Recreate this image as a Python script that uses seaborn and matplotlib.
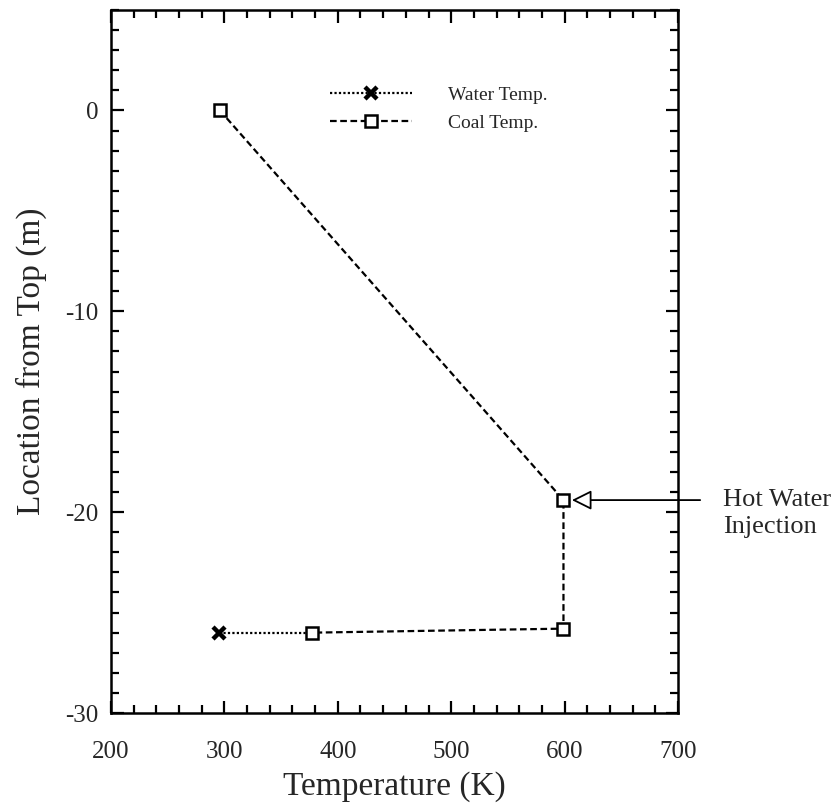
import matplotlib
matplotlib.use("Agg")
import matplotlib.pyplot as plt
import seaborn as sns
import pandas as pd
from matplotlib.ticker import MultipleLocator

# Data
coal_temp = [296, 599, 599, 377]
coal_loc = [0.0, -19.4, -25.8, -26.0]
water_temp = [295, 377]
water_loc = [-26.0, -26.0]

x_ticks = [200, 300, 400, 500, 600, 700]
y_ticks = [0, -10, -20, -30]

sns.set_theme(style="ticks")
plt.rcParams["font.family"] = ["Liberation Serif", "DejaVu Serif"]
plt.rcParams["axes.unicode_minus"] = False

fig = plt.figure(figsize=(8.37, 8.08), dpi=100)
ax = fig.add_axes([111 / 837, 95 / 808, 567 / 837, 703 / 808])

water_df = pd.DataFrame({"T": water_temp, "L": water_loc})
coal_df = pd.DataFrame({"T": coal_temp, "L": coal_loc})

sns.lineplot(data=water_df, x="T", y="L", sort=False, estimator=None, ax=ax,
             color="black", linestyle=(0, (1, 1)), linewidth=1.6,
             marker="x", markersize=9, markeredgewidth=3.2,
             markeredgecolor="black", markevery=[0],
             label="Water Temp.", zorder=2)
sns.lineplot(data=coal_df, x="T", y="L", sort=False, estimator=None, ax=ax,
             color="black", linestyle=(0, (3, 1.6)), linewidth=1.6,
             marker="s", markersize=8.5, markerfacecolor="white",
             markeredgecolor="black", markeredgewidth=1.8,
             label="Coal Temp.", zorder=3)

ax.set_xlim(200, 700)
ax.set_ylim(-30, 5)
ax.set_xticks(x_ticks)
ax.set_yticks(y_ticks)
ax.xaxis.set_minor_locator(MultipleLocator(20))
ax.yaxis.set_minor_locator(MultipleLocator(1))
ax.tick_params(which="both", direction="in", top=True, right=True,
               color="black", width=1.6)
ax.tick_params(which="major", length=9)
ax.tick_params(which="minor", length=5.5)
ax.tick_params(axis="x", which="major", pad=20, labelsize=18)
ax.tick_params(axis="y", which="major", pad=9, labelsize=18)
for s in ax.spines.values():
    s.set_linewidth(1.8)
    s.set_color("black")

ax.set_xlabel("Temperature (K)", fontsize=24, labelpad=6)
ax.set_ylabel("Location from Top (m)", fontsize=24, labelpad=13)

leg = ax.legend(loc="upper left", bbox_to_anchor=(0.386, 0.892), frameon=False,
                fontsize=14, handlelength=4.2, handletextpad=1.9,
                labelspacing=0.55, borderpad=0, borderaxespad=0)

# Annotation arrow
ax.annotate("", xy=(604, -19.4), xytext=(722, -19.4),
            arrowprops=dict(arrowstyle="-|>", color="black", lw=1.3,
                            mutation_scale=30, fc="white"),
            annotation_clip=False)
ax.text(740, -19.4, "Hot Water", fontsize=19, va="center", ha="left", clip_on=False)
ax.text(740, -20.75, "Injection", fontsize=19, va="center", ha="left", clip_on=False)

fig.savefig("out.png", dpi=100)
